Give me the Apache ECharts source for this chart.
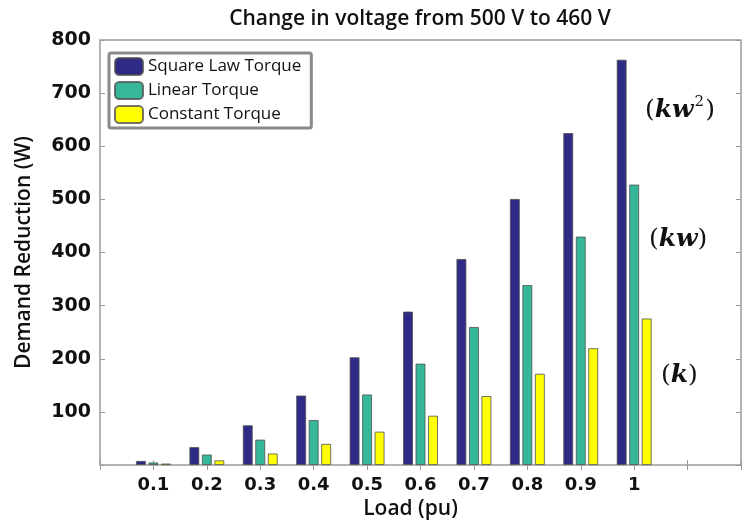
<!DOCTYPE html>
<html>
<head>
<meta charset="utf-8">
<script src="https://cdn.jsdelivr.net/npm/echarts@6/dist/echarts.min.js"></script>
<style>
html,body{margin:0;padding:0;background:#fff;overflow:hidden;}
#chart{width:744px;height:525px;}
</style>
</head>
<body>
<div id="chart"></div>
<script>
// Data
var loads = ['0.1','0.2','0.3','0.4','0.5','0.6','0.7','0.8','0.9','1'];
var squareLaw = [8, 34, 75, 131, 203, 289, 388, 501, 625, 763];
var linearT   = [5, 20, 48, 85, 133, 191, 260, 339, 430, 528];
var constantT = [3, 9, 22, 40, 63, 93, 130, 172, 220, 276];
var seriesNames = ['Square Law Torque','Linear Torque','Constant Torque'];
var yTicks = [0, 800, 100];

// Category axis padded so that 0 sits on the left frame and the axis runs to 1.2
var cats = ['0'].concat(loads, ['1.1','1.2']);
function pad(arr){ return [null].concat(arr, [null, null]); }

var chart = echarts.init(document.getElementById('chart'));
var frame = '#9a9a9a';
var barBorder = 'rgba(80,80,80,0.8)';

function tickAxis(pos, showLabel){
  return {
    type:'category', data:cats, boundaryGap:false, position:pos,
    axisLine:{show:false},
    axisTick:{show:true, inside:true, length:5, alignWithLabel:true, lineStyle:{color:frame}},
    axisLabel:{show:showLabel}
  };
}

var mathP = {fontFamily:'DejaVu Serif', fontSize:25, lineHeight:30, fill:'#111'};
var mathV = {fontFamily:'DejaVu Serif', fontStyle:'italic', fontWeight:'bold', fontSize:25, lineHeight:30, fill:'#111'};

var option = {
  animation:false,
  backgroundColor:'#fff',
  title:{
    text:'Change in voltage from 500 V to 460 V',
    left:415, textAlign:'center', top:4,
    textStyle:{fontFamily:'Open Sans', fontWeight:600, fontSize:21, color:'#111'}
  },
  legend:{
    data:seriesNames, orient:'vertical', left:109, top:53,
    itemWidth:28, itemHeight:17, itemGap:5,
    padding:[4,10,4,5],
    borderColor:'#8a8a8a', borderWidth:3, borderRadius:2, backgroundColor:'#fff',
    textStyle:{fontFamily:'Open Sans', fontSize:17, color:'#111'}
  },
  grid:{left:100, right:-2, top:40, bottom:56, show:true, borderColor:frame, borderWidth:1.5},
  xAxis:[
    Object.assign(tickAxis('bottom', true), {
      name:'Load (pu)', nameLocation:'middle', nameGap:30,
      nameTextStyle:{fontFamily:'Open Sans', fontWeight:600, fontSize:21, color:'#111', padding:[0,20,0,0]},
      axisLabel:{show:true, interval:0, margin:11, fontFamily:'DejaVu Sans', fontWeight:'bold', fontSize:18, color:'#111',
        formatter:function(v){ return loads.indexOf(v) >= 0 ? v : ''; }}
    }),
    tickAxis('top', false)
  ],
  yAxis:[
    {
      type:'value', min:yTicks[0], max:yTicks[1], interval:yTicks[2], position:'left',
      name:'Demand Reduction (W)', nameLocation:'middle', nameGap:65, nameRotate:90,
      nameTextStyle:{fontFamily:'Open Sans', fontWeight:600, fontSize:21, color:'#111'},
      axisLine:{show:false},
      axisTick:{show:true, inside:true, length:5, lineStyle:{color:frame}},
      splitLine:{show:false},
      axisLabel:{margin:9, fontFamily:'DejaVu Sans', fontWeight:'bold', fontSize:19, color:'#111',
        formatter:function(v){ return v === 0 ? '' : v; }}
    },
    {
      type:'value', min:yTicks[0], max:yTicks[1], interval:yTicks[2], position:'right',
      axisLine:{show:false},
      axisTick:{show:true, inside:true, length:5, lineStyle:{color:frame}},
      splitLine:{show:false}, axisLabel:{show:false}
    }
  ],
  series:[
    {name:seriesNames[0], type:'bar', data:pad(squareLaw), barWidth:10, barGap:'25%',
      itemStyle:{color:'#2f2a86', borderColor:barBorder, borderWidth:1}},
    {name:seriesNames[1], type:'bar', data:pad(linearT), barWidth:10, barGap:'25%',
      itemStyle:{color:'#36b79a', borderColor:barBorder, borderWidth:1}},
    {name:seriesNames[2], type:'bar', data:pad(constantT), barWidth:10, barGap:'25%',
      itemStyle:{color:'#ffff00', borderColor:barBorder, borderWidth:1}}
  ],
  graphic:[
    {type:'text', left:645, top:95, style:{
      text:'{p|(}{v|kw}{s|2}{p|)}',
      rich:{
        p:mathP, v:mathV,
        s:{fontFamily:'DejaVu Serif', fontSize:15, lineHeight:30, fill:'#111', verticalAlign:'top', padding:[0,1,12,1]}
      }}},
    {type:'text', left:649, top:227, style:{
      text:'{p|(}{v|kw}{p|)}', rich:{p:mathP, v:mathV}}},
    {type:'text', left:661, top:363, style:{
      text:'{p|(}{v|k}{p|)}', rich:{p:mathP, v:mathV}}}
  ]
};
chart.setOption(option);
</script>
</body>
</html>
